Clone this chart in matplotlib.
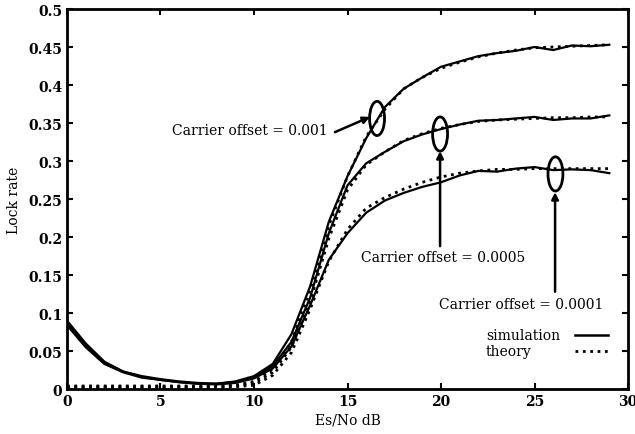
# lock rate vs Es/No, simulation against theory for three carrier offsets

import numpy as np
import matplotlib.pyplot as plt
from matplotlib.patches import Ellipse

plt.rcParams['font.family'] = 'DejaVu Serif'
plt.rcParams['font.size'] = 10

esno = np.arange(0, 30)

# simulation
sim_1e3 = [0.090, 0.060, 0.036, 0.023, 0.017, 0.013, 0.010, 0.008, 0.007, 0.010,
           0.017, 0.033, 0.072, 0.135, 0.220, 0.280, 0.330, 0.371, 0.395, 0.410,
           0.424, 0.431, 0.438, 0.442, 0.445, 0.450, 0.446, 0.452, 0.451, 0.453]
sim_5e4 = [0.087, 0.058, 0.035, 0.023, 0.016, 0.012, 0.009, 0.007, 0.007, 0.009,
           0.015, 0.030, 0.062, 0.120, 0.205, 0.268, 0.297, 0.312, 0.326, 0.335,
           0.342, 0.348, 0.353, 0.354, 0.356, 0.358, 0.354, 0.356, 0.356, 0.360]
sim_1e4 = [0.084, 0.055, 0.033, 0.022, 0.015, 0.012, 0.009, 0.007, 0.006, 0.008,
           0.014, 0.027, 0.056, 0.110, 0.170, 0.205, 0.232, 0.248, 0.258, 0.266,
           0.272, 0.281, 0.287, 0.286, 0.290, 0.292, 0.288, 0.289, 0.288, 0.284]

# theory
th_1e3 = [0.004, 0.004, 0.004, 0.004, 0.004, 0.004, 0.004, 0.004, 0.004, 0.005,
          0.010, 0.026, 0.062, 0.130, 0.215, 0.280, 0.332, 0.368, 0.395, 0.410,
          0.422, 0.430, 0.437, 0.442, 0.446, 0.449, 0.450, 0.451, 0.452, 0.453]
th_5e4 = [0.003, 0.003, 0.003, 0.003, 0.003, 0.003, 0.003, 0.003, 0.003, 0.004,
          0.008, 0.022, 0.055, 0.115, 0.198, 0.262, 0.295, 0.312, 0.327, 0.336,
          0.343, 0.348, 0.352, 0.354, 0.355, 0.356, 0.357, 0.357, 0.358, 0.358]
th_1e4 = [0.002, 0.002, 0.002, 0.002, 0.002, 0.002, 0.002, 0.002, 0.002, 0.003,
          0.005, 0.018, 0.048, 0.105, 0.168, 0.210, 0.238, 0.252, 0.263, 0.272,
          0.279, 0.284, 0.287, 0.289, 0.289, 0.290, 0.290, 0.290, 0.290, 0.290]

fig = plt.figure(figsize=(6.35, 4.35), dpi=100)
ax = fig.add_axes([0.1055, 0.1034, 0.8835, 0.8736])

for s in (sim_1e3, sim_5e4, sim_1e4):
    ax.plot(esno, s, '-', color='black', lw=1.6)
for t in (th_1e3, th_5e4, th_1e4):
    ax.plot(esno, t, ':', color='black', lw=2)

# ellipses marking the curves
for (cx, cy) in [(16.58, 0.356), (19.95, 0.3355), (26.12, 0.283)]:
    ax.add_patch(Ellipse((cx, cy), 0.8, 0.045, fill=False, lw=2, color='black'))

arrow = dict(arrowstyle='-|>', color='black', lw=1.8, mutation_scale=10,
             shrinkA=0, shrinkB=0)
ax.annotate('', xy=(16.2, 0.358), xytext=(14.33, 0.338), arrowprops=arrow)
ax.annotate('', xy=(19.95, 0.313), xytext=(19.95, 0.188), arrowprops=arrow)
ax.annotate('', xy=(26.1, 0.259), xytext=(26.1, 0.128), arrowprops=arrow)

ax.text(13.96, 0.341, 'Carrier offset = 0.001', ha='right', va='center')
ax.text(20.13, 0.174, 'Carrier offset = 0.0005', ha='center', va='center')
ax.text(24.3, 0.112, 'Carrier offset = 0.0001', ha='center', va='center')

# key, text on the left and line sample on the right (gnuplot style)
ax.text(0.747, 0.142, 'simulation', transform=ax.transAxes, ha='left', va='center')
ax.text(0.747, 0.100, 'theory', transform=ax.transAxes, ha='left', va='center')
ax.plot([0.906, 0.964], [0.142, 0.142], '-', color='black', lw=1.8, transform=ax.transAxes)
ax.plot([0.906, 0.964], [0.100, 0.100], ':', color='black', lw=2, transform=ax.transAxes)

ax.set_xlim(0, 30)
ax.set_ylim(0, 0.5)
ax.set_xticks(np.arange(0, 31, 5))
ax.set_yticks(np.arange(0, 0.51, 0.05))
ax.set_yticklabels(['0', '0.05', '0.1', '0.15', '0.2', '0.25', '0.3', '0.35', '0.4', '0.45', '0.5'])
ax.tick_params(direction='in', top=True, right=True, width=1.5, length=4, labelsize=10)
for lab in ax.get_xticklabels() + ax.get_yticklabels():
    lab.set_fontweight('bold')
for sp in ax.spines.values():
    sp.set_linewidth(2)

ax.set_xlabel('Es/No dB', labelpad=3)
ax.set_ylabel('Lock rate', labelpad=5)

plt.savefig('out.png')
